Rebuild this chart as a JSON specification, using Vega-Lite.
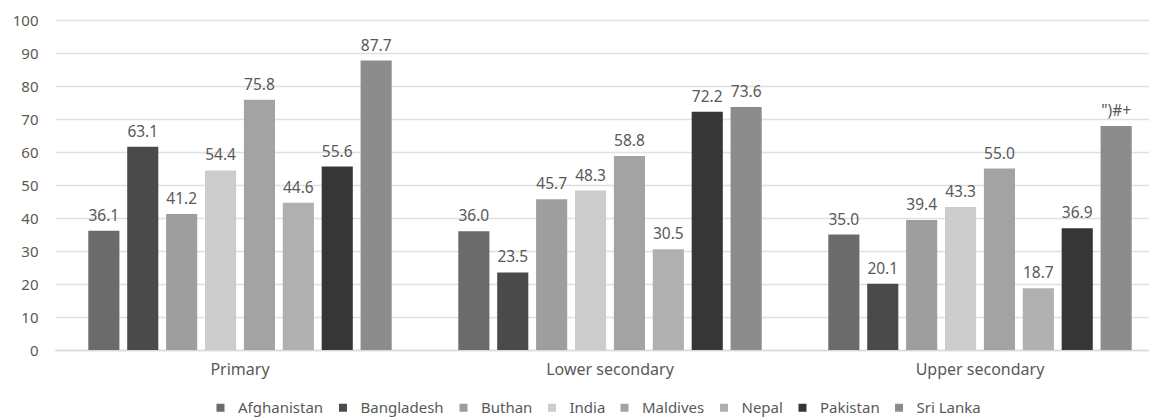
{
  "$schema": "https://vega.github.io/schema/vega-lite/v6.json",
  "width": 1094,
  "height": 330,
  "autosize": {"type": "none"},
  "padding": {"left": 55, "top": 20, "right": 0, "bottom": 67},
  "background": "white",
  "config": {
    "view": {"stroke": null},
    "font": "Noto Sans",
    "text": {"font": "Noto Sans"}
  },
  "data": {
    "values": [
      {"level": "Primary", "country": "Afghanistan", "value": 36.1, "label": "36.1"},
      {"level": "Primary", "country": "Bangladesh", "value": 61.6, "label": "63.1"},
      {"level": "Primary", "country": "Buthan", "value": 41.2, "label": "41.2"},
      {"level": "Primary", "country": "India", "value": 54.4, "label": "54.4"},
      {"level": "Primary", "country": "Maldives", "value": 75.8, "label": "75.8"},
      {"level": "Primary", "country": "Nepal", "value": 44.6, "label": "44.6"},
      {"level": "Primary", "country": "Pakistan", "value": 55.6, "label": "55.6"},
      {"level": "Primary", "country": "Sri Lanka", "value": 87.7, "label": "87.7"},
      {"level": "Lower secondary", "country": "Afghanistan", "value": 36.0, "label": "36.0"},
      {"level": "Lower secondary", "country": "Bangladesh", "value": 23.5, "label": "23.5"},
      {"level": "Lower secondary", "country": "Buthan", "value": 45.7, "label": "45.7"},
      {"level": "Lower secondary", "country": "India", "value": 48.3, "label": "48.3"},
      {"level": "Lower secondary", "country": "Maldives", "value": 58.8, "label": "58.8"},
      {"level": "Lower secondary", "country": "Nepal", "value": 30.5, "label": "30.5"},
      {"level": "Lower secondary", "country": "Pakistan", "value": 72.2, "label": "72.2"},
      {"level": "Lower secondary", "country": "Sri Lanka", "value": 73.6, "label": "73.6"},
      {"level": "Upper secondary", "country": "Afghanistan", "value": 35.0, "label": "35.0"},
      {"level": "Upper secondary", "country": "Bangladesh", "value": 20.1, "label": "20.1"},
      {"level": "Upper secondary", "country": "Buthan", "value": 39.4, "label": "39.4"},
      {"level": "Upper secondary", "country": "India", "value": 43.3, "label": "43.3"},
      {"level": "Upper secondary", "country": "Maldives", "value": 55.0, "label": "55.0"},
      {"level": "Upper secondary", "country": "Nepal", "value": 18.7, "label": "18.7"},
      {"level": "Upper secondary", "country": "Pakistan", "value": 36.9, "label": "36.9"},
      {"level": "Upper secondary", "country": "Sri Lanka", "value": 67.9, "label": "\")#+"}
    ]
  },
  "encoding": {
    "x": {
      "field": "level",
      "type": "nominal",
      "sort": ["Primary", "Lower secondary", "Upper secondary"],
      "scale": {"range": [0, 1110], "paddingInner": 0.18, "paddingOuter": 0.09},
      "axis": {
        "title": null,
        "labelAngle": 0,
        "domain": true,
        "domainColor": "#d9d9d9",
        "domainWidth": 1.5,
        "ticks": false,
        "labelPadding": 11,
        "labelFontSize": 16,
        "labelColor": "#595959",
        "labelFont": "Noto Sans"
      }
    },
    "xOffset": {
      "field": "country",
      "type": "nominal",
      "sort": ["Afghanistan", "Bangladesh", "Buthan", "India", "Maldives", "Nepal", "Pakistan", "Sri Lanka"],
      "scale": {"paddingInner": 0.2, "paddingOuter": 0}
    },
    "y": {
      "field": "value",
      "type": "quantitative",
      "scale": {"domain": [0, 100]},
      "axis": {
        "title": null,
        "values": [0, 10, 20, 30, 40, 50, 60, 70, 80, 90, 100],
        "domain": false,
        "ticks": false,
        "grid": true,
        "gridColor": "#e0e0e0",
        "gridWidth": 1.5,
        "labelPadding": 17,
        "labelFontSize": 15,
        "labelColor": "#595959",
        "labelFont": "Noto Sans"
      }
    }
  },
  "layer": [
    {
      "mark": {"type": "bar"},
      "encoding": {
        "color": {
          "field": "country",
          "type": "nominal",
          "sort": ["Afghanistan", "Bangladesh", "Buthan", "India", "Maldives", "Nepal", "Pakistan", "Sri Lanka"],
          "scale": {
            "domain": ["Afghanistan", "Bangladesh", "Buthan", "India", "Maldives", "Nepal", "Pakistan", "Sri Lanka"],
            "range": ["#6b6b6b", "#4a4a4a", "#9e9e9e", "#cccccc", "#a3a3a3", "#b0b0b0", "#363636", "#8c8c8c"]
          },
          "legend": {
            "title": null,
            "orient": "none",
            "direction": "horizontal",
            "legendX": 158,
            "legendY": 380,
            "symbolType": "square",
            "symbolSize": 64,
            "symbolStrokeWidth": 0,
            "labelFontSize": 15,
            "labelColor": "#595959",
            "labelFont": "Noto Sans",
            "columnPadding": 11.5,
            "symbolOffset": 0,
            "labelOffset": 10
          }
        }
      }
    },
    {
      "mark": {"type": "text", "baseline": "alphabetic", "dy": -10, "fontSize": 15.5, "color": "#595959", "font": "Noto Sans"},
      "encoding": {
        "text": {"field": "label", "type": "nominal"}
      }
    }
  ]
}
